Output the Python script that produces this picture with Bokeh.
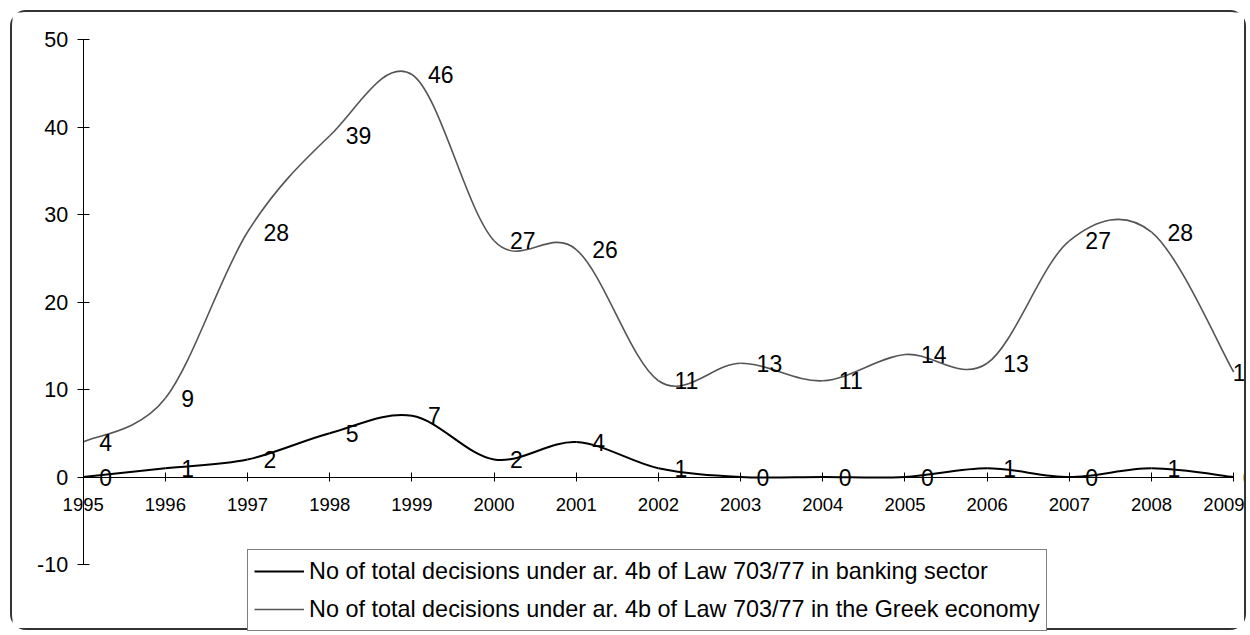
from bokeh.plotting import figure
from bokeh.models import FixedTicker, Legend, LegendItem, ColumnDataSource, Range1d
from bokeh.core.properties import value
from bokeh.embed import file_html
from bokeh.resources import INLINE

years = [1995, 1996, 1997, 1998, 1999, 2000, 2001, 2002, 2003, 2004, 2005, 2006, 2007, 2008, 2009]
banking = [0, 1, 2, 5, 7, 2, 4, 1, 0, 0, 0, 1, 0, 1, 0]
greek = [4, 9, 28, 39, 46, 27, 26, 11, 13, 11, 14, 13, 27, 28, 12]
y_ticks = [-10, 0, 10, 20, 30, 40, 50]
name_banking = "No of total decisions under ar. 4b of Law 703/77 in banking sector"
name_greek = "No of total decisions under ar. 4b of Law 703/77 in the Greek economy"

FONT = "Liberation Sans"


def smooth_segments(xs, ys):
    """Bezier segments (Catmull-Rom style) through the data points, like Excel's smoothed line."""
    n = len(xs)
    d = dict(x0=[], y0=[], x1=[], y1=[], cx0=[], cy0=[], cx1=[], cy1=[])
    for i in range(n - 1):
        xm, ym = (xs[i - 1], ys[i - 1]) if i > 0 else (xs[i], ys[i])
        xp, yp = (xs[i + 2], ys[i + 2]) if i + 2 < n else (xs[i + 1], ys[i + 1])
        d["x0"].append(xs[i]); d["y0"].append(ys[i])
        d["x1"].append(xs[i + 1]); d["y1"].append(ys[i + 1])
        d["cx0"].append(xs[i] + (xs[i + 1] - xm) / 6.0)
        d["cy0"].append(ys[i] + (ys[i + 1] - ym) / 6.0)
        d["cx1"].append(xs[i + 1] - (xp - xs[i]) / 6.0)
        d["cy1"].append(ys[i + 1] - (yp - ys[i]) / 6.0)
    return ColumnDataSource(d)


p = figure(width=1236, height=620, output_backend="svg", toolbar_location=None,
           x_range=Range1d(1994.14, 2009.18), y_range=Range1d(-17.77, 53.09),
           min_border_left=0, min_border_right=0, min_border_top=0, min_border_bottom=0)
p.styles = {"border": "2px solid #333333", "border-radius": "16px",
            "margin-left": "10px", "margin-top": "10px"}
p.outline_line_color = None
p.grid.visible = False
p.background_fill_color = "white"
p.border_fill_color = "white"

GREY = "#555555"

# smoothed lines
p.bezier(x0="x0", y0="y0", x1="x1", y1="y1", cx0="cx0", cy0="cy0", cx1="cx1", cy1="cy1",
         source=smooth_segments(years, greek), line_color=GREY, line_width=1.6)
p.bezier(x0="x0", y0="y0", x1="x1", y1="y1", cx0="cx0", cy0="cy0", cx1="cx1", cy1="cy1",
         source=smooth_segments(years, banking), line_color="black", line_width=2)

# legend proxies (no visible data)
nan = float("nan")
lb = p.line(x=[nan], y=[nan], line_color="black", line_width=2)
lg = p.line(x=[nan], y=[nan], line_color=GREY, line_width=1.6)


# data labels (the last label of each series is pulled inward, as in the original)
def add_labels(xs, ys, last_offset):
    body = ColumnDataSource(dict(x=xs[:-1], y=ys[:-1], t=[str(v) for v in ys[:-1]]))
    tail = ColumnDataSource(dict(x=xs[-1:], y=ys[-1:], t=[str(v) for v in ys[-1:]]))
    for s, off in ((body, 16), (tail, last_offset)):
        p.text(x="x", y="y", text="t", source=s, x_offset=off, text_align="left",
               text_baseline="middle", text_font=value(FONT), text_font_size="23px",
               text_color="black")


add_labels(years, greek, -1)
add_labels(years, banking, 9)

# axes
xa = p.xaxis[0]
xa.fixed_location = 0
xa.bounds = (1995, 2009)
xa.ticker = FixedTicker(ticks=years)
xa.minor_tick_line_color = None
xa.major_tick_in = 5
xa.major_tick_out = 4
xa.major_label_standoff = 17
xa.major_label_text_font = FONT
xa.major_label_text_font_size = "18.5px"
xa.major_label_text_color = "black"
xa.axis_line_color = "black"
xa.major_tick_line_color = "black"

ya = p.yaxis[0]
ya.fixed_location = 1995
ya.bounds = (-10, 50)
ya.ticker = FixedTicker(ticks=y_ticks)
ya.major_label_overrides = {-10: "-10"}
ya.minor_tick_line_color = None
ya.major_tick_in = 6
ya.major_tick_out = 6
ya.major_label_standoff = 9
ya.major_label_text_font = FONT
ya.major_label_text_font_size = "21.5px"
ya.major_label_text_color = "black"
ya.axis_line_color = "black"
ya.major_tick_line_color = "black"

legend = Legend(items=[LegendItem(label=name_banking, renderers=[lb]),
                       LegendItem(label=name_greek, renderers=[lg])],
                location=(235, 1), orientation="vertical",
                border_line_color="black", border_line_width=1,
                background_fill_color="white", background_fill_alpha=1,
                padding=6, margin=0, spacing=8, label_standoff=5,
                glyph_width=50, glyph_height=30, label_height=30,
                label_text_font=FONT, label_text_font_size="23.4px",
                label_text_color="black")
p.add_layout(legend)

open("out.html", "w").write(file_html(p, INLINE))
